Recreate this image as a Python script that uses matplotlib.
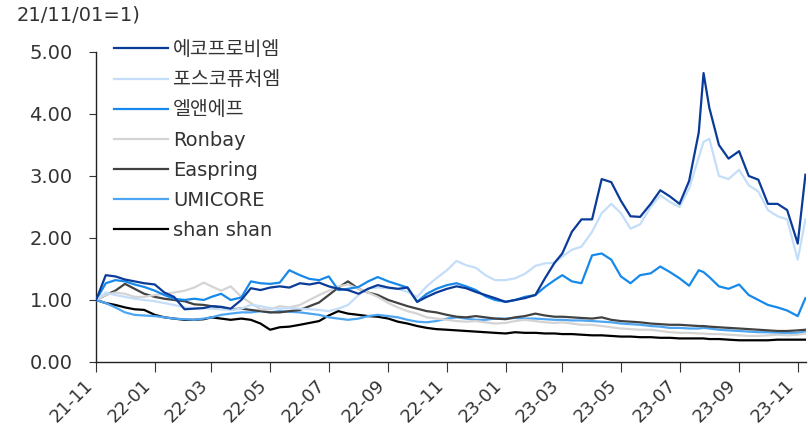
import pandas as pd
import matplotlib
matplotlib.use('Agg')
import matplotlib.pyplot as plt
import matplotlib.dates as mdates

plt.rcParams['font.family'] = ['DejaVu Sans', 'Noto Sans CJK KR']

# sample dates: 1st / 11th / 21st of each month, plus a few extra points
dates = []
for m in pd.period_range('2021-11', '2023-10', freq='M'):
    for d in (1, 11, 21):
        dates.append(pd.Timestamp(m.year, m.month, d))
    if m == pd.Period('2023-07', freq='M'):
        dates.append(pd.Timestamp('2023-07-26'))
dates += [pd.Timestamp('2023-11-01'), pd.Timestamp('2023-11-09')]

labels = ['에코프로비엠', '포스코퓨처엠', '엘앤에프', 'Ronbay', 'Easpring', 'UMICORE', 'shan shan']
colors = ['#0b3b98', '#c4def9', '#1789ea', '#d4d4d4', '#424242', '#4ea6f3', '#000000']

ecopro = [1.00, 1.40, 1.38, 1.33, 1.30, 1.27,
          1.25, 1.12, 1.05, 0.85, 0.86, 0.87, 0.90, 0.89, 0.86, 1.00, 1.19, 1.16,
          1.20, 1.22, 1.20, 1.27, 1.25, 1.28, 1.22, 1.18, 1.16, 1.10, 1.18, 1.24,
          1.20, 1.18, 1.20, 0.97, 1.05, 1.12, 1.18, 1.22, 1.19, 1.13, 1.08, 1.03,
          0.97, 1.00, 1.03, 1.08, 1.35, 1.60, 1.75, 2.10, 2.30, 2.30, 2.95, 2.90,
          2.60, 2.35, 2.34, 2.55, 2.77, 2.67, 2.55, 2.92, 3.70, 4.66, 4.10, 3.50, 3.28,
          3.40, 3.00, 2.94, 2.55, 2.55, 2.45, 1.91, 3.02]
posco = [1.00, 1.12, 1.08, 1.05, 1.02, 1.00,
         0.98, 0.95, 0.92, 0.88, 0.87, 0.87, 0.86, 0.85, 0.84, 0.86, 0.92, 0.90,
         0.87, 0.86, 0.87, 0.86, 0.85, 0.84, 0.82, 0.86, 0.92, 1.08, 1.19, 1.20,
         1.19, 1.18, 1.13, 1.05, 1.22, 1.35, 1.48, 1.63, 1.56, 1.52, 1.40, 1.32,
         1.32, 1.35, 1.42, 1.55, 1.59, 1.60, 1.70, 1.81, 1.86, 2.10, 2.40, 2.55,
         2.40, 2.15, 2.22, 2.50, 2.69, 2.58, 2.50, 2.80, 3.30, 3.55, 3.60, 3.00, 2.95,
         3.10, 2.85, 2.75, 2.45, 2.35, 2.30, 1.65, 2.30]
lnf = [1.00, 1.27, 1.32, 1.30, 1.25, 1.21,
       1.15, 1.08, 1.02, 1.00, 1.02, 1.00, 1.05, 1.10, 1.00, 1.04, 1.30, 1.27,
       1.26, 1.28, 1.48, 1.40, 1.34, 1.32, 1.38, 1.16, 1.18, 1.21, 1.30, 1.37,
       1.30, 1.25, 1.20, 0.97, 1.10, 1.18, 1.24, 1.27, 1.22, 1.16, 1.06, 1.00,
       0.97, 1.00, 1.05, 1.08, 1.21, 1.32, 1.40, 1.30, 1.27, 1.72, 1.75, 1.65,
       1.38, 1.27, 1.40, 1.43, 1.54, 1.45, 1.35, 1.23, 1.48, 1.45, 1.37, 1.22, 1.18,
       1.25, 1.08, 1.00, 0.92, 0.88, 0.83, 0.74, 1.03]
ronbay = [1.00, 1.08, 1.12, 1.10, 1.05, 1.05,
          1.08, 1.10, 1.12, 1.15, 1.20, 1.28, 1.22, 1.15, 1.22, 1.05, 0.95, 0.85,
          0.85, 0.90, 0.88, 0.92, 1.00, 1.08, 1.15, 1.22, 1.25, 1.18, 1.12, 1.05,
          0.95, 0.88, 0.82, 0.78, 0.72, 0.70, 0.68, 0.66, 0.65, 0.66, 0.64, 0.62,
          0.63, 0.66, 0.68, 0.66, 0.64, 0.63, 0.64, 0.62, 0.60, 0.60, 0.58, 0.56,
          0.54, 0.53, 0.52, 0.52, 0.50, 0.48, 0.47, 0.47, 0.46, 0.46, 0.45, 0.45, 0.44,
          0.43, 0.42, 0.42, 0.43, 0.44, 0.43, 0.44, 0.46]
easpring = [1.00, 1.08, 1.15, 1.26, 1.18, 1.10,
            1.05, 1.02, 1.00, 0.98, 0.93, 0.92, 0.90, 0.88, 0.85, 0.86, 0.84, 0.82,
            0.80, 0.80, 0.82, 0.84, 0.90, 0.96, 1.08, 1.20, 1.30, 1.18, 1.12, 1.08,
            1.00, 0.95, 0.90, 0.86, 0.82, 0.80, 0.76, 0.73, 0.72, 0.74, 0.72, 0.70,
            0.69, 0.72, 0.74, 0.78, 0.75, 0.73, 0.73, 0.72, 0.71, 0.70, 0.72, 0.68,
            0.66, 0.65, 0.64, 0.62, 0.61, 0.60, 0.60, 0.59, 0.58, 0.58, 0.57, 0.56, 0.55,
            0.54, 0.53, 0.52, 0.51, 0.50, 0.50, 0.51, 0.52]
umicore = [1.00, 0.95, 0.88, 0.80, 0.76, 0.75,
           0.74, 0.72, 0.70, 0.69, 0.68, 0.70, 0.72, 0.76, 0.78, 0.80, 0.80, 0.82,
           0.80, 0.82, 0.81, 0.80, 0.78, 0.76, 0.72, 0.70, 0.68, 0.70, 0.74, 0.76,
           0.74, 0.72, 0.68, 0.65, 0.64, 0.66, 0.70, 0.72, 0.70, 0.68, 0.68, 0.70,
           0.70, 0.71, 0.70, 0.70, 0.69, 0.68, 0.68, 0.67, 0.67, 0.66, 0.65, 0.64,
           0.62, 0.61, 0.60, 0.58, 0.57, 0.55, 0.55, 0.54, 0.54, 0.55, 0.54, 0.52, 0.51,
           0.50, 0.49, 0.48, 0.48, 0.47, 0.47, 0.47, 0.49]
shanshan = [1.00, 0.95, 0.92, 0.88, 0.85, 0.84,
            0.76, 0.72, 0.70, 0.68, 0.68, 0.69, 0.72, 0.70, 0.68, 0.70, 0.68, 0.62,
            0.52, 0.56, 0.57, 0.60, 0.63, 0.66, 0.75, 0.82, 0.78, 0.76, 0.74, 0.73,
            0.70, 0.65, 0.62, 0.58, 0.55, 0.53, 0.52, 0.51, 0.50, 0.49, 0.48, 0.47,
            0.46, 0.48, 0.47, 0.47, 0.46, 0.46, 0.45, 0.45, 0.44, 0.43, 0.43, 0.42,
            0.41, 0.41, 0.40, 0.40, 0.39, 0.39, 0.38, 0.38, 0.38, 0.38, 0.37, 0.37, 0.36,
            0.35, 0.35, 0.35, 0.35, 0.36, 0.36, 0.36, 0.36]

series = [ecopro, posco, lnf, ronbay, easpring, umicore, shanshan]

fig = plt.figure(figsize=(8.08, 4.33), dpi=100)
ax = fig.add_axes([0.119, 0.164, 0.879, 0.716])

for i, (vals, lab, col) in enumerate(zip(series, labels, colors)):
    ax.plot(dates, vals, color=col, lw=1.6, label=lab, zorder=10 - i)

ax.set_ylim(0, 5)
ax.set_yticks([0, 1, 2, 3, 4, 5])
ax.set_yticklabels([f'{v:.2f}' for v in range(6)])
ax.set_xlim(pd.Timestamp('2021-11-01'), pd.Timestamp('2023-11-10'))
ax.xaxis.set_major_locator(mdates.MonthLocator(bymonth=[1, 3, 5, 7, 9, 11]))
ax.xaxis.set_major_formatter(mdates.DateFormatter('%y-%m'))
plt.setp(ax.get_xticklabels(), rotation=45, ha='right')

for s in ['top', 'right']:
    ax.spines[s].set_visible(False)
for s in ['left', 'bottom']:
    ax.spines[s].set_color('#222222')
    ax.spines[s].set_linewidth(1.0)
ax.tick_params(axis='y', length=5, labelsize=14, colors='#333333', pad=12)
ax.tick_params(axis='x', length=7, labelsize=13, colors='#333333', pad=3)

leg = ax.legend(loc='upper left', bbox_to_anchor=(0.132, 0.925), bbox_transform=fig.transFigure,
                frameon=False, fontsize=14, handlelength=2.75, handletextpad=0.25,
                labelspacing=0.57, borderaxespad=0)
for t in leg.get_texts():
    t.set_color('#333333')

fig.text(0.021, 0.965, '21/11/01=1)', fontsize=14, color='#333333', va='center', ha='left')

fig.savefig('out.png', dpi=100)
